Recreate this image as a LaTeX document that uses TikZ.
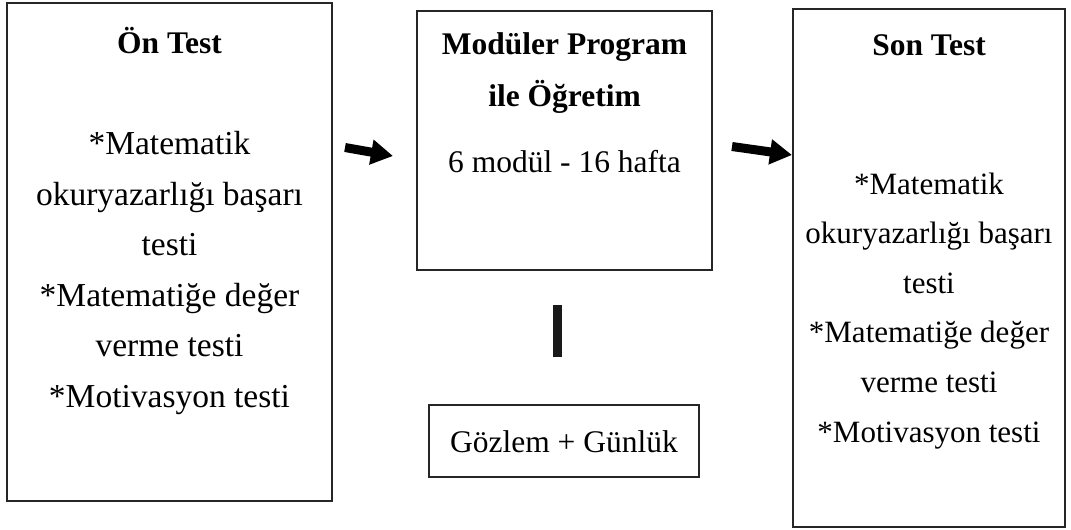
\documentclass[tikz,border=0pt]{standalone}
\usepackage{fontspec}
\setmainfont{Liberation Serif}
\usetikzlibrary{arrows.meta}

\begin{document}
\begin{tikzpicture}[x=1pt,y=-1pt,
  panel/.style={draw=black!85,line width=1.3pt,fill=none,inner sep=0pt},
  txt/.style={align=center,anchor=base,inner sep=0pt},
  head/.style={txt,font=\fontsize{31.5}{52}\selectfont\bfseries},
  fatarrow/.style={line width=9pt,-{Triangle[length=22pt,width=24pt]}},
  bar/.style={line width=9pt,black!90}]
\useasboundingbox (0,0) rectangle (1071,530);

% frames
\node[panel,minimum width=325pt,minimum height=498pt] (pre) at (169.5,252) {};
\node[panel,minimum width=295pt,minimum height=259pt] (mod) at (564.5,140.5) {};
\node[panel,minimum width=272pt,minimum height=518pt] (post) at (929,268) {};
\node[panel,minimum width=270pt,minimum height=72pt] (obs) at (564,441) {};

% pre-test (base anchor sits on the last line)
\node[head] (preT) at (169.5,53) {Ön Test};
\node[txt,font=\fontsize{33.5}{50.5}\selectfont] (preB) at (169.5,407)
  {*Matematik\\okuryazarlığı başarı\\testi\\*Matematiğe değer\\verme testi\\*Motivasyon testi};

% modular teaching
\node[head] (modT) at (564.5,106) {Modüler Program\\ile Öğretim};
\node[txt,font=\fontsize{31.5}{50}\selectfont] (modB) at (564.5,172) {6 modül - 16 hafta};

% post-test
\node[head] (postT) at (929,55) {Son Test};
\node[txt,font=\fontsize{31}{49.6}\selectfont] (postB) at (929,442)
  {*Matematik\\okuryazarlığı başarı\\testi\\*Matematiğe değer\\verme testi\\*Motivasyon testi};

% observation
\node[txt,font=\fontsize{31.5}{50}\selectfont] (obsB) at (564,452) {Gözlem + Günlük};

% connectors
\coordinate (a1s) at (345,147.5);
\coordinate (a1e) at (393,156);
\coordinate (a2s) at (732,146.5);
\coordinate (a2e) at (792,155);
\draw[fatarrow] (a1s) -- (a1e);
\draw[fatarrow] (a2s) -- (a2e);
\coordinate (b1) at (557.5,305);
\coordinate (b2) at (557.5,357);
\draw[bar] (b1) -- (b2);
\end{tikzpicture}
\end{document}
